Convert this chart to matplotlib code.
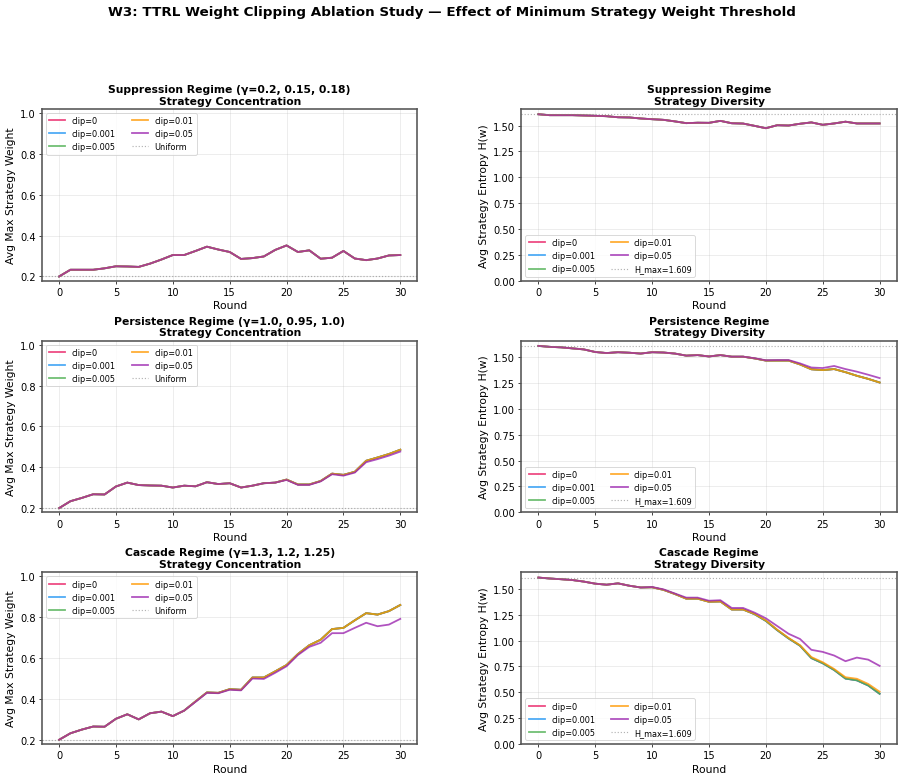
import matplotlib
matplotlib.use("Agg")
import matplotlib.pyplot as plt
import numpy as np

rounds = list(range(31))
clips = ["0", "0.001", "0.005", "0.01", "0.05"]
colors = ["#E91E63", "#2196F3", "#4CAF50", "#FF9800", "#9C27B0"]
uniform = 0.2
h_max = 1.609

# suppression: all clip settings give the same curve
supp_conc = [0.200, 0.233, 0.233, 0.233, 0.240, 0.250, 0.249, 0.247, 0.263, 0.283, 0.305,
             0.305, 0.325, 0.346, 0.332, 0.320, 0.286, 0.290, 0.298, 0.330, 0.352,
             0.320, 0.328, 0.287, 0.292, 0.325, 0.288, 0.280, 0.288, 0.303, 0.305]
supp_ent = [1.609, 1.600, 1.600, 1.600, 1.597, 1.594, 1.590, 1.580, 1.578, 1.568, 1.561,
            1.555, 1.540, 1.523, 1.527, 1.526, 1.545, 1.522, 1.519, 1.497, 1.474,
            1.503, 1.500, 1.517, 1.530, 1.507, 1.520, 1.537, 1.520, 1.520, 1.520]

# persistence
pers_conc = [0.200, 0.234, 0.250, 0.268, 0.267, 0.306, 0.325, 0.313, 0.311, 0.310, 0.301,
             0.310, 0.307, 0.327, 0.318, 0.322, 0.301, 0.310, 0.322, 0.325, 0.340,
             0.316, 0.316, 0.333, 0.369, 0.363, 0.378, 0.432, 0.448, 0.465, 0.486]
pers_conc_05 = [0.200, 0.234, 0.250, 0.268, 0.267, 0.306, 0.325, 0.313, 0.311, 0.310, 0.301,
                0.310, 0.307, 0.327, 0.318, 0.322, 0.301, 0.310, 0.322, 0.325, 0.338,
                0.314, 0.314, 0.331, 0.366, 0.359, 0.374, 0.425, 0.440, 0.457, 0.477]
pers_ent = [1.609, 1.600, 1.595, 1.585, 1.575, 1.550, 1.540, 1.548, 1.543, 1.535, 1.548,
            1.545, 1.535, 1.515, 1.520, 1.507, 1.520, 1.505, 1.505, 1.488, 1.467,
            1.467, 1.467, 1.430, 1.383, 1.375, 1.385, 1.355, 1.320, 1.290, 1.255]
pers_ent_05 = [1.609, 1.600, 1.595, 1.585, 1.575, 1.550, 1.540, 1.548, 1.543, 1.535, 1.548,
               1.545, 1.535, 1.515, 1.520, 1.507, 1.520, 1.505, 1.505, 1.490, 1.470,
               1.472, 1.472, 1.440, 1.400, 1.395, 1.415, 1.385, 1.360, 1.330, 1.298]

# cascade
casc_conc = [0.200, 0.232, 0.250, 0.265, 0.264, 0.303, 0.325, 0.300, 0.330, 0.338, 0.316,
             0.343, 0.388, 0.432, 0.430, 0.448, 0.445, 0.505, 0.505, 0.535, 0.566,
             0.620, 0.663, 0.690, 0.742, 0.748, 0.785, 0.820, 0.813, 0.830, 0.860]
casc_conc_05 = [0.200, 0.232, 0.250, 0.265, 0.264, 0.303, 0.325, 0.300, 0.330, 0.338, 0.316,
                0.343, 0.386, 0.430, 0.428, 0.445, 0.442, 0.500, 0.498, 0.528, 0.560,
                0.615, 0.655, 0.675, 0.722, 0.722, 0.748, 0.773, 0.756, 0.764, 0.792]
casc_ent = [1.609, 1.600, 1.593, 1.585, 1.570, 1.550, 1.540, 1.553, 1.530, 1.513, 1.515,
            1.490, 1.450, 1.405, 1.405, 1.375, 1.378, 1.300, 1.300, 1.255, 1.190,
            1.100, 1.020, 0.950, 0.830, 0.780, 0.715, 0.632, 0.615, 0.565, 0.485]
casc_ent_01 = [1.609, 1.600, 1.593, 1.585, 1.570, 1.550, 1.540, 1.553, 1.530, 1.513, 1.515,
               1.490, 1.450, 1.405, 1.405, 1.375, 1.378, 1.300, 1.300, 1.258, 1.195,
               1.105, 1.025, 0.955, 0.840, 0.790, 0.725, 0.645, 0.630, 0.580, 0.505]
casc_ent_05 = [1.609, 1.600, 1.593, 1.585, 1.570, 1.550, 1.540, 1.553, 1.530, 1.513, 1.518,
               1.495, 1.455, 1.415, 1.415, 1.385, 1.390, 1.315, 1.315, 1.270, 1.215,
               1.140, 1.065, 1.015, 0.910, 0.890, 0.855, 0.800, 0.835, 0.815, 0.755]

regimes = ["Suppression Regime", "Persistence Regime", "Cascade Regime"]
gammas = ["(γ=0.2, 0.15, 0.18)", "(γ=1.0, 0.95, 1.0)", "(γ=1.3, 1.2, 1.25)"]
conc_series = [
    [supp_conc, supp_conc, supp_conc, supp_conc, supp_conc],
    [pers_conc, pers_conc, pers_conc, pers_conc, pers_conc_05],
    [casc_conc, casc_conc, casc_conc, casc_conc, casc_conc_05],
]
ent_series = [
    [supp_ent, supp_ent, supp_ent, supp_ent, supp_ent],
    [pers_ent, pers_ent, pers_ent, pers_ent, pers_ent_05],
    [casc_ent, casc_ent, casc_ent, casc_ent_01, casc_ent_05],
]

fig, axes = plt.subplots(3, 2, figsize=(14, 12.093), dpi=64.5)
fig.subplots_adjust(left=0.0465, right=0.993, top=0.859, bottom=0.045,
                    wspace=0.277, hspace=0.35)
fig.suptitle("W3: TTRL Weight Clipping Ablation Study — Effect of Minimum Strategy Weight Threshold",
             fontsize=15, fontweight="bold", y=0.992)

for i in range(3):
    ax = axes[i, 0]
    for clip, col, ys in zip(clips, colors, conc_series[i]):
        ax.plot(rounds, ys, color=col, lw=2, alpha=0.8, label=f"clip={clip}")
    ax.axhline(uniform, color="gray", ls=":", lw=1.3, alpha=0.6, label="Uniform")
    ax.set_ylim(0.18, 1.02)
    ax.set_ylabel("Avg Max Strategy Weight", fontsize=12)
    ax.set_title(f"{regimes[i]} {gammas[i]}\nStrategy Concentration",
                 fontsize=12, fontweight="bold")
    ax.legend(fontsize=9, ncol=2, loc="upper left")

    ax = axes[i, 1]
    for clip, col, ys in zip(clips, colors, ent_series[i]):
        ax.plot(rounds, ys, color=col, lw=2, alpha=0.8, label=f"clip={clip}")
    ax.axhline(h_max, color="gray", ls=":", lw=1.3, alpha=0.6, label=f"H_max={h_max:.3f}")
    ax.set_ylim(0, 1.66)
    ax.set_ylabel("Avg Strategy Entropy H(w)", fontsize=12)
    ax.set_title(f"{regimes[i]}\nStrategy Diversity", fontsize=12, fontweight="bold")
    ax.legend(fontsize=9, ncol=2, loc="lower left")

for ax in axes.flat:
    ax.set_xlabel("Round", fontsize=12)
    ax.set_xlim(-1.5, 31.5)
    ax.tick_params(labelsize=11)
    ax.grid(True, alpha=0.3)
    for s in ax.spines.values():
        s.set_color("#555555")
        s.set_linewidth(1.8)

fig.savefig("out.png", dpi=64.5)
